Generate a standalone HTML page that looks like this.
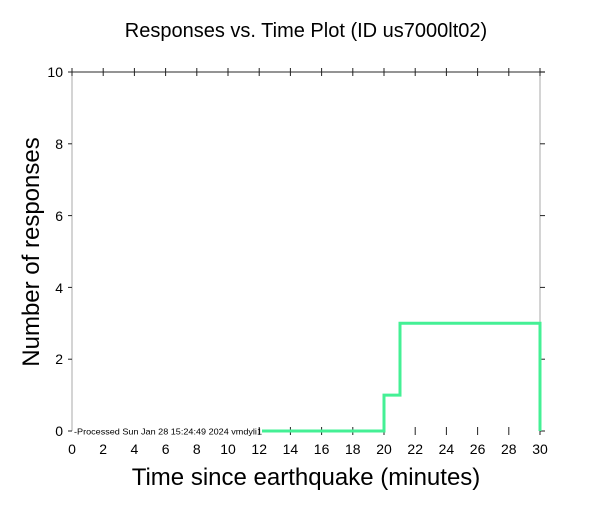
<!DOCTYPE html>
<html><head><style>body{margin:0;background:#fff}</style></head><body>
<svg width="612" height="504" xmlns="http://www.w3.org/2000/svg" font-family="Liberation Sans, sans-serif">
<rect width="612" height="504" fill="#fff"/>
<text x="306" y="37" font-size="20" text-anchor="middle">Responses vs. Time Plot (ID us7000lt02)</text>
<line x1="72" y1="72" x2="72" y2="431" stroke="#aaa" stroke-width="1"/>
<line x1="540" y1="72" x2="540" y2="431" stroke="#aaa" stroke-width="1"/>
<line x1="72" y1="72" x2="545" y2="72" stroke="#555" stroke-width="1.2"/>
<g stroke="#222" stroke-width="1">
<line x1="72" y1="68" x2="72" y2="76"/><line x1="103.2" y1="68" x2="103.2" y2="76"/><line x1="134.4" y1="68" x2="134.4" y2="76"/><line x1="165.6" y1="68" x2="165.6" y2="76"/><line x1="196.8" y1="68" x2="196.8" y2="76"/><line x1="228" y1="68" x2="228" y2="76"/><line x1="259.2" y1="68" x2="259.2" y2="76"/><line x1="290.4" y1="68" x2="290.4" y2="76"/><line x1="321.6" y1="68" x2="321.6" y2="76"/><line x1="352.8" y1="68" x2="352.8" y2="76"/><line x1="384" y1="68" x2="384" y2="76"/><line x1="415.2" y1="68" x2="415.2" y2="76"/><line x1="446.4" y1="68" x2="446.4" y2="76"/><line x1="477.6" y1="68" x2="477.6" y2="76"/><line x1="508.8" y1="68" x2="508.8" y2="76"/><line x1="540" y1="68" x2="540" y2="76"/>
<line x1="259.2" y1="427" x2="259.2" y2="435"/><line x1="290.4" y1="427" x2="290.4" y2="435"/><line x1="321.6" y1="427" x2="321.6" y2="435"/><line x1="352.8" y1="427" x2="352.8" y2="435"/><line x1="384" y1="427" x2="384" y2="435"/><line x1="415.2" y1="427" x2="415.2" y2="435"/><line x1="446.4" y1="427" x2="446.4" y2="435"/><line x1="477.6" y1="427" x2="477.6" y2="435"/><line x1="508.8" y1="427" x2="508.8" y2="435"/><line x1="540" y1="427" x2="540" y2="435"/>
<line x1="540" y1="72" x2="545" y2="72"/><line x1="540" y1="143.8" x2="545" y2="143.8"/><line x1="540" y1="215.6" x2="545" y2="215.6"/><line x1="540" y1="287.4" x2="545" y2="287.4"/><line x1="540" y1="359.2" x2="545" y2="359.2"/><line x1="540" y1="431" x2="545" y2="431"/>
<line x1="68" y1="72" x2="72" y2="72"/><line x1="68" y1="143.8" x2="72" y2="143.8"/><line x1="68" y1="215.6" x2="72" y2="215.6"/><line x1="68" y1="287.4" x2="72" y2="287.4"/><line x1="68" y1="359.2" x2="72" y2="359.2"/><line x1="68" y1="431" x2="72" y2="431"/>
</g>
<g font-size="14" text-anchor="end">
<text x="63" y="77">10</text><text x="63" y="149">8</text><text x="63" y="221">6</text><text x="63" y="293">4</text><text x="63" y="364">2</text><text x="63" y="436">0</text>
</g>
<g font-size="14" text-anchor="middle">
<text x="72" y="454">0</text><text x="103.2" y="454">2</text><text x="134.4" y="454">4</text><text x="165.6" y="454">6</text><text x="196.8" y="454">8</text><text x="228" y="454">10</text><text x="259.2" y="454">12</text><text x="290.4" y="454">14</text><text x="321.6" y="454">16</text><text x="352.8" y="454">18</text><text x="384" y="454">20</text><text x="415.2" y="454">22</text><text x="446.4" y="454">24</text><text x="477.6" y="454">26</text><text x="508.8" y="454">28</text><text x="540" y="454">30</text>
</g>
<text x="306" y="485" font-size="24" text-anchor="middle">Time since earthquake (minutes)</text>
<text transform="translate(39,252) rotate(-90)" font-size="24" text-anchor="middle">Number of responses</text>
<text x="74" y="434.5" font-size="8.5" textLength="188" lengthAdjust="spacingAndGlyphs">-Processed Sun Jan 28 15:24:49 2024 vmdyli1</text>
<polyline points="262,431 384,431 384,395.1 400,395.1 400,323.3 540,323.3 540,431" fill="none" stroke="#44f095" stroke-width="3"/>
</svg>
</body></html>
